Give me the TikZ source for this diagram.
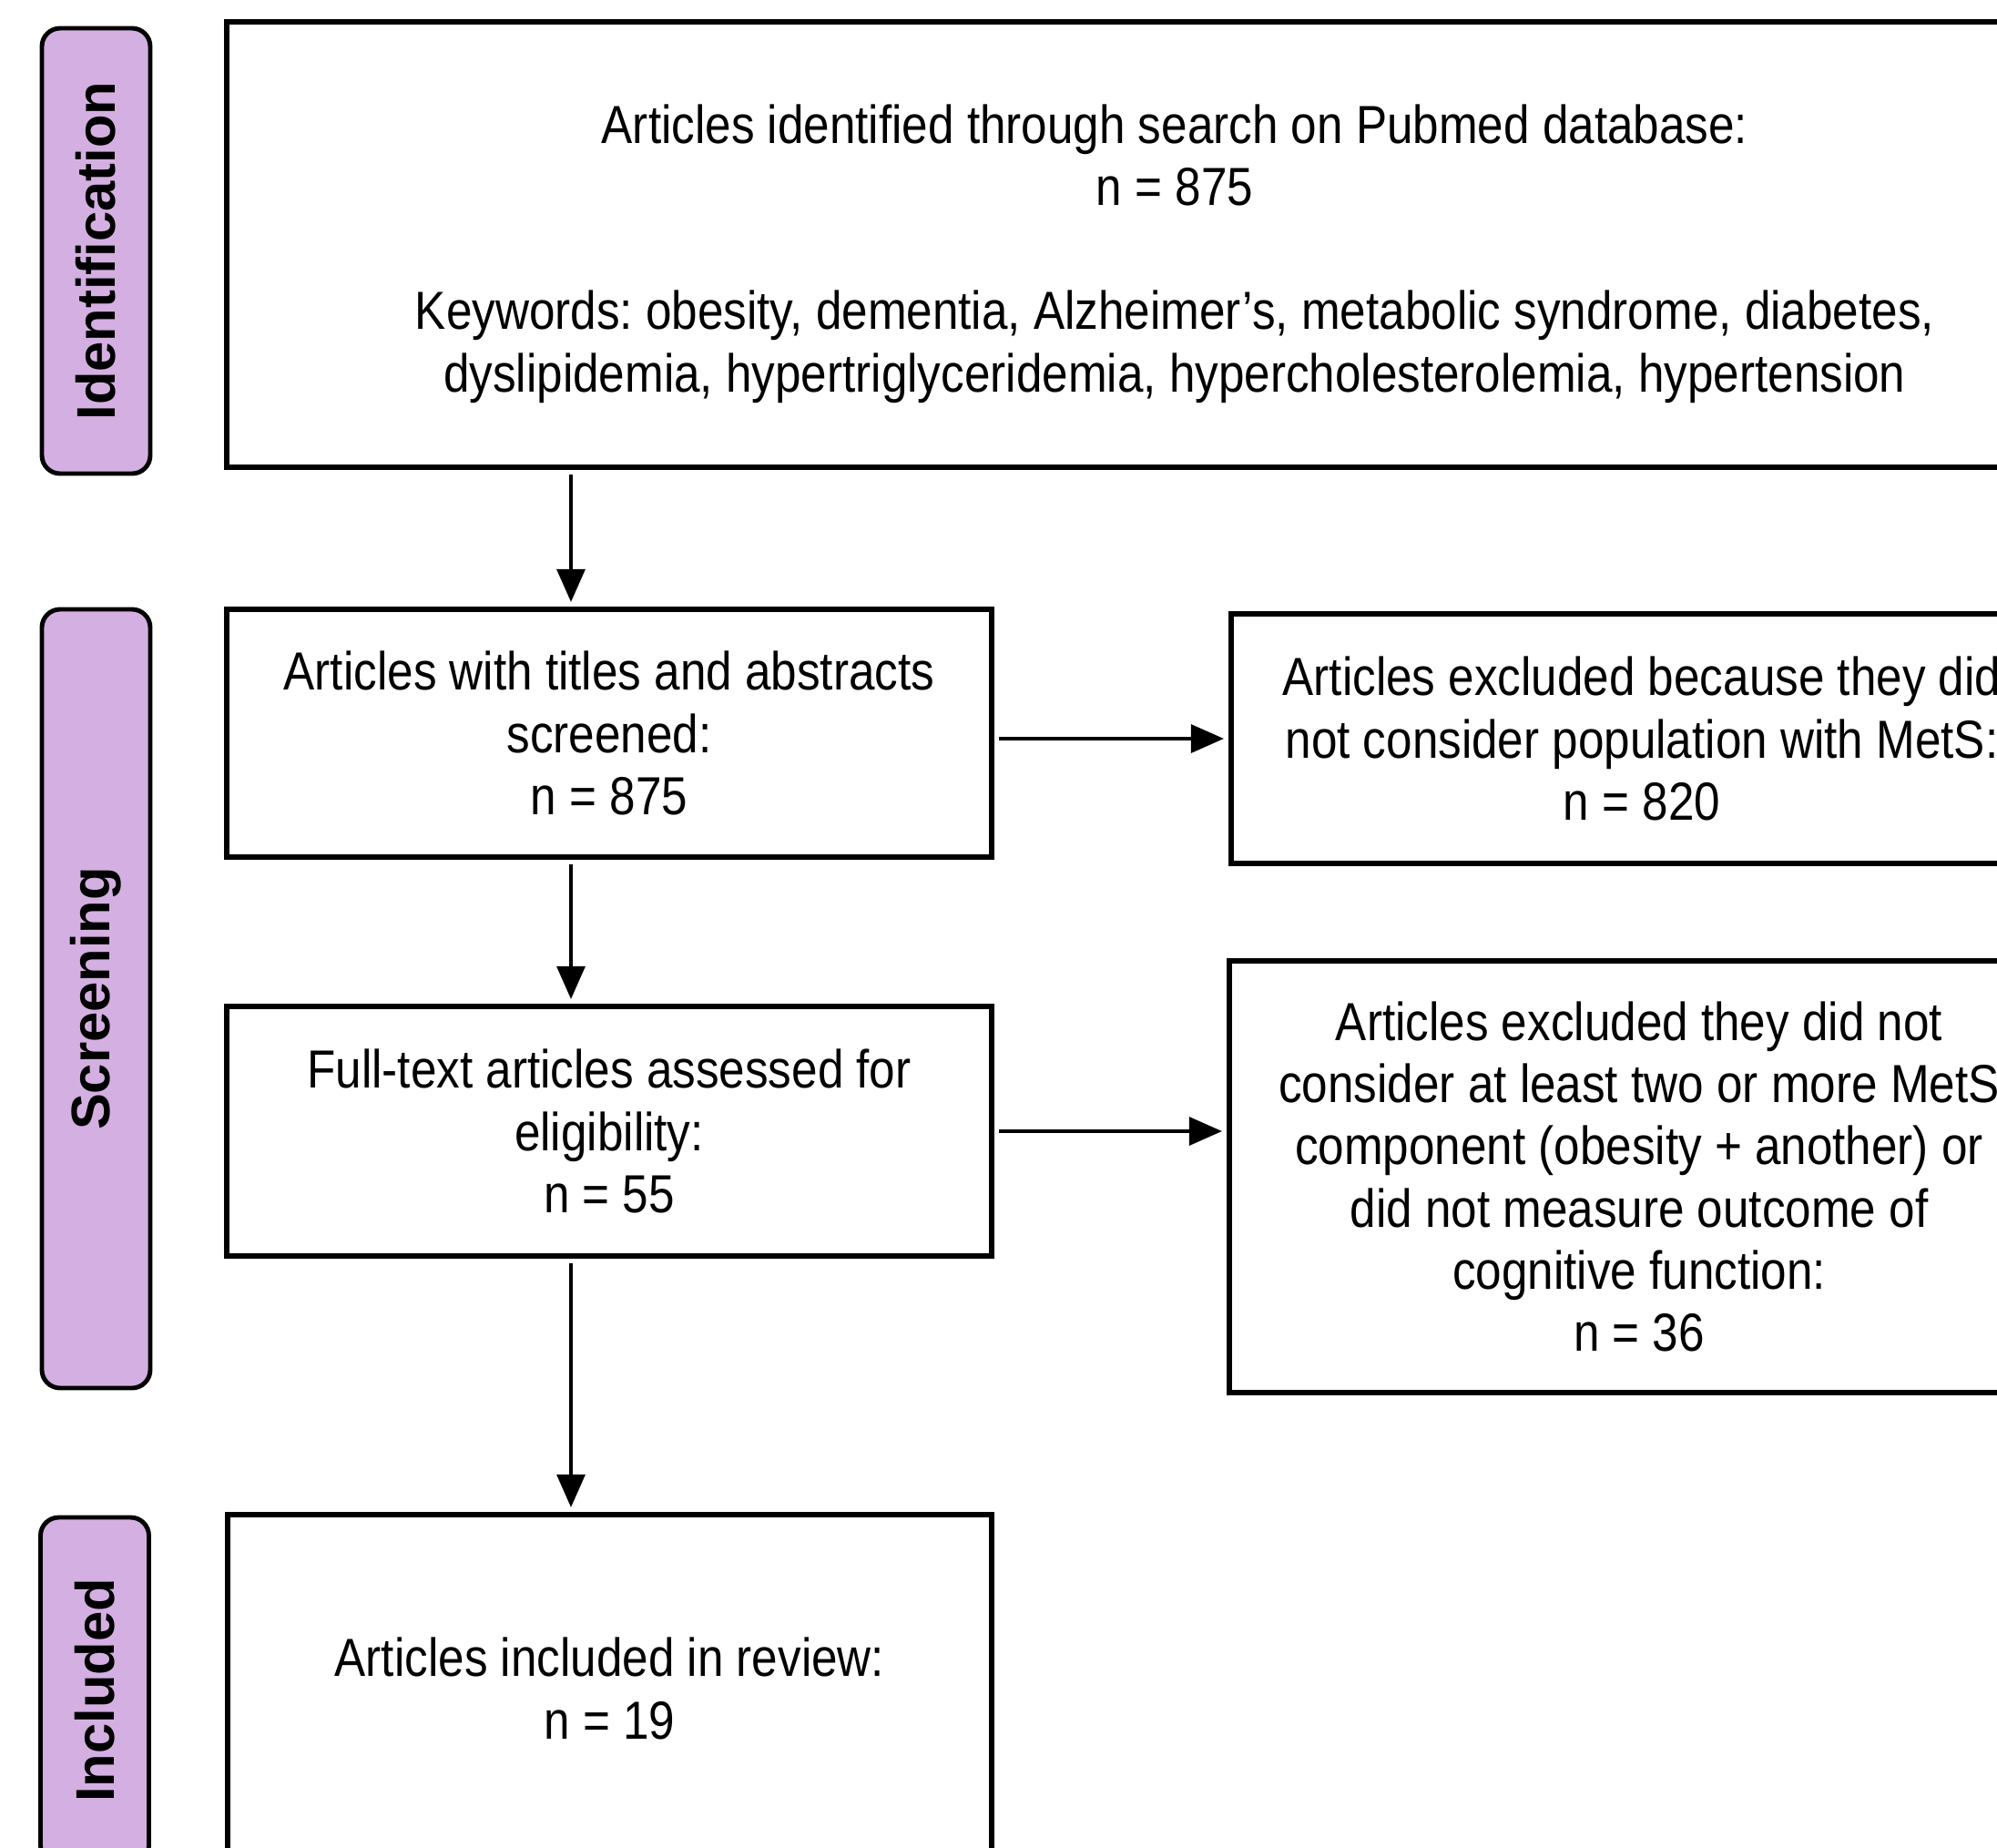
\documentclass[tikz,border=0pt]{standalone}
\usepackage{fontspec}
\setmainfont{Liberation Sans}[FakeStretch=0.87]
\newfontfamily\phasefont{Liberation Sans}
\usetikzlibrary{arrows.meta}
\definecolor{phasepurple}{HTML}{D4AFE1}
\frenchspacing

\begin{document}
\begin{tikzpicture}[
  box/.style={draw, line width=1.6pt, align=center, inner sep=0pt, font=\fontsize{16.75}{19.4}\selectfont},
  phase/.style={draw, line width=1.4pt, fill=phasepurple, rounded corners=2mm, rotate=90, minimum height=1.19cm, inner sep=0pt, font=\phasefont\bfseries\fontsize{17}{20}\selectfont},
  flow/.style={-{Triangle[length=3.6mm,width=3.1mm]}, line width=0.9pt, shorten <=1.5pt, shorten >=1.5pt}]
\clip (0,0) rectangle (21.93,-20.28);
\node[phase, minimum width=4.89cm] (ident) at (1.055,-2.755) {Identification};
\node[phase, minimum width=8.55cm] (screen) at (1.055,-10.965) {Screening};
\node[phase, minimum width=3.80cm] (incl) at (1.04,-18.56) {Included};
\node[box, minimum width=20.82cm, minimum height=4.89cm] (search) at (12.90,-2.685) {};
\node[box, draw=none] (searchtxt) at ([yshift=-0.1cm]search.center) {Articles identified through search on Pubmed database:\\ n = 875\\[19.4pt] Keywords: obesity, dementia, Alzheimer’s, metabolic syndrome, diabetes,\\ dyslipidemia, hypertriglyceridemia, hypercholesterolemia, hypertension};
\node[box, minimum width=8.40cm, minimum height=2.72cm] (titles) at (6.69,-8.05) {Articles with titles and abstracts\\ screened:\\ n = 875};
\node[box, minimum width=9.02cm, minimum height=2.74cm] (excla) at (18.03,-8.11) {Articles excluded because they did\\ not consider population with MetS:\\ n = 820};
\node[box, minimum width=8.40cm, minimum height=2.74cm] (fulltext) at (6.69,-12.42) {Full-text articles assessed for\\ eligibility:\\ n = 55};
\node[box, minimum width=9.00cm, minimum height=4.74cm] (exclb) at (18.00,-12.92) {Articles excluded they did not\\ consider at least two or more MetS\\ component (obesity + another) or\\ did not measure outcome of\\ cognitive function:\\ n = 36};
\node[box, minimum width=8.39cm, minimum height=3.82cm] (review) at (6.695,-18.54) {Articles included in review:\\ n = 19};
\coordinate (spine) at (6.27,0);
\draw[flow] (search.south -| spine) -- (titles.north -| spine);
\draw[flow] (titles.south -| spine) -- (fulltext.north -| spine);
\draw[flow] (fulltext.south -| spine) -- (review.north -| spine);
\draw[flow] (titles.east |- excla) -- (excla.west);
\draw[flow] (fulltext.east) -- (fulltext.east -| exclb.west);
\end{tikzpicture}
\end{document}
